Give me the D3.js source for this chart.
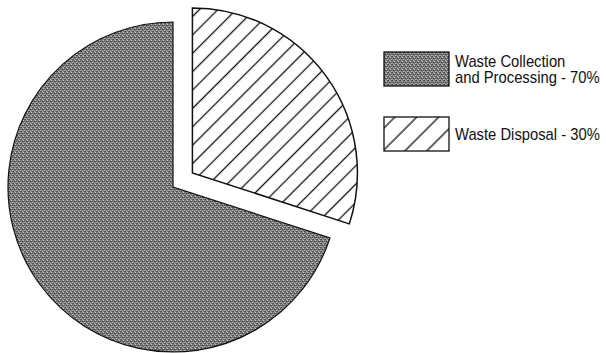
<!DOCTYPE html>
<html>
<head>
<meta charset="utf-8">
<script src="https://cdn.jsdelivr.net/npm/d3@7"></script>
<style>
  html, body { margin: 0; padding: 0; background: #fff; }
  svg { display: block; }
</style>
</head>
<body>
<div id="chart"></div>
<script>
// slices, in drawing order (clockwise from 12 o'clock)
const categories = ['Waste Disposal', 'Waste Collection and Processing'];
const shares = [30, 70];
const legendLines = [['Waste Collection', 'and Processing - 70%'], ['Waste Disposal - 30%']];
const legendOrder = [1, 0]; // collection first in legend
const exploded = [true, false];

const width = 606, height = 353;
const cx = 173, cy = 187, radius = 165, explode = 24;

const svg = d3.select('#chart').append('svg')
    .attr('width', width).attr('height', height);

const defs = svg.append('defs');

// hatch patterns (pie and the wider legend swatch)
function makeHatch(id, step) {
    const p = defs.append('pattern')
        .attr('id', id)
        .attr('patternUnits', 'userSpaceOnUse')
        .attr('width', step).attr('height', step)
        .attr('patternTransform', 'rotate(45)');
    p.append('rect').attr('width', step).attr('height', step).attr('fill', '#fff');
    p.append('line')
        .attr('x1', step / 2).attr('y1', 0).attr('x2', step / 2).attr('y2', step)
        .attr('stroke', '#111').attr('stroke-width', 1.3);
}
makeHatch('hatch', 13);
makeHatch('hatchLegend', 15.5);

// stippled gray for the collection slice
const stip = defs.append('pattern')
    .attr('id', 'stipple')
    .attr('patternUnits', 'userSpaceOnUse')
    .attr('width', 4).attr('height', 4);
stip.append('rect').attr('width', 4).attr('height', 4).attr('fill', '#7e7e7e');
const dots = [[0, 0, '#3a3a3a'], [2, 1, '#c8c8c8'], [1, 2, '#444'], [3, 3, '#bdbdbd'],
              [3, 0, '#585858'], [0, 3, '#a0a0a0'], [2, 2, '#606060'], [1, 0, '#adadad'], [3, 2, '#505050']];
stip.selectAll('rect.d').data(dots).join('rect')
    .attr('class', 'd')
    .attr('x', d => d[0]).attr('y', d => d[1])
    .attr('width', 1).attr('height', 1)
    .attr('fill', d => d[2]);

const fills = ['url(#hatch)', 'url(#stipple)'];
const legendFills = ['url(#hatchLegend)', 'url(#stipple)'];

const pie = d3.pie().sort(null).value(d => d)(shares);
const arc = d3.arc().innerRadius(0).outerRadius(radius);

const g = svg.append('g').attr('transform', `translate(${cx},${cy})`);

g.selectAll('path.slice').data(pie).join('path')
    .attr('class', 'slice')
    .attr('d', arc)
    .attr('fill', (d, i) => fills[i])
    .attr('stroke', '#111')
    .attr('stroke-width', (d, i) => i === 0 ? 1.5 : 1.2)
    .attr('transform', (d, i) => {
        if (!exploded[i]) return null;
        const a = (d.startAngle + d.endAngle) / 2;
        return `translate(${Math.sin(a) * explode},${-Math.cos(a) * explode})`;
    });

// legend
const legend = svg.append('g').attr('transform', 'translate(384,52)');
const rowGap = 65;
const rows = legend.selectAll('g.row').data(legendOrder).join('g')
    .attr('class', 'row')
    .attr('transform', (d, i) => `translate(0,${i * rowGap})`);

rows.append('rect')
    .attr('width', 65).attr('height', 34)
    .attr('fill', d => legendFills[d])
    .attr('stroke', '#111').attr('stroke-width', 1.3);

rows.each(function (d, i) {
    const lines = legendLines[i];
    const top = lines.length === 1 ? 23 : 15;
    // no narrow face installed: squeeze a regular sans horizontally
    const t = d3.select(this).append('g')
        .attr('transform', `translate(71,${top}) scale(0.87,1)`)
        .append('text')
        .attr('font-family', '"Liberation Sans", Arial, sans-serif')
        .attr('font-size', 17)
        .attr('fill', '#111');
    t.selectAll('tspan').data(lines).join('tspan')
        .attr('x', 0)
        .attr('y', (l, j) => j * 16.5)
        .text(l => l);
});
</script>
</body>
</html>
